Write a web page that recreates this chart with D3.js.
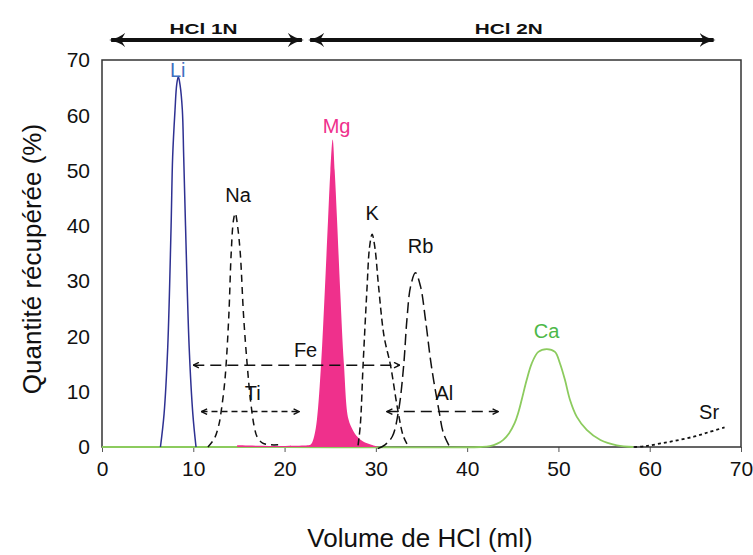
<!DOCTYPE html>
<html><head><meta charset="utf-8">
<script src="https://cdn.jsdelivr.net/npm/d3@7"></script>
<style>
html,body{margin:0;padding:0;background:#fff;}
svg{display:block;}
text{font-family:"Liberation Sans",Arial,sans-serif;}
</style></head>
<body>
<svg id="chart" width="753" height="555"></svg>
<script>
// ---- data (x: volume HCl in ml, y: % recovered) ----
const xTicks = [0,10,20,30,40,50,60,70];
const yTicks = [0,10,20,30,40,50,60,70];
const li = [[6.4,0],[6.8,6],[7.2,18],[7.57,40],[7.74,52.5],[8.0,61],[8.18,65.5],[8.36,67],[8.55,65.5],[8.8,61],[8.95,52.5],[9.15,40],[9.55,18],[9.95,6],[10.3,0]];
const na = [[11.6,0],[12.3,1.5],[12.8,4],[13.1,7],[13.4,11],[13.6,15],[13.9,24],[14.15,35],[14.4,41],[14.6,42.3],[14.85,40],[15.15,35],[15.5,24],[15.9,15],[16.3,8],[16.7,3.5],[17.0,1.8],[17.6,0.7],[18.5,0.4],[19.3,0.4]];
const mg = [[14.8,0.3],[22.5,0.3],[22.9,0.5],[23.25,2],[23.55,5],[24.0,15],[24.4,28],[24.76,41],[25.02,50],[25.27,55.6],[25.49,50],[25.75,41],[26.1,28],[26.5,15],[27.0,5],[27.5,3],[27.95,1.9],[28.6,1],[29.5,0.4],[30.3,0]];
const k  = [[28.05,0.3],[28.3,4],[28.6,14.8],[29.04,29],[29.3,36],[29.59,38.5],[29.9,36],[30.3,29],[30.9,20],[31.6,14.8],[32.4,6.7],[33.0,2],[33.5,0.3]];
const rb = [[30.2,-0.3],[31.0,0.4],[31.8,1.9],[32.5,6.7],[33.05,14.8],[33.4,23],[33.8,29],[34.34,31.5],[34.9,29],[35.44,23],[36.07,14.8],[36.9,6.7],[37.4,2.5],[38.0,0.3]];
const ca = [[0,0],[20,0],[41.5,0],[42.5,0.15],[43.3,0.6],[43.96,1.3],[44.6,2.5],[45.2,4.3],[45.6,6.2],[45.97,8.5],[46.52,12.1],[47.07,15.1],[47.8,17.2],[48.72,17.7],[49.62,17.2],[50.17,15.1],[50.72,12.1],[51.27,8.5],[52.0,5.5],[53.1,3.1],[54.6,1.26],[56.4,0.3],[58.2,0]];
const sr = [[58.3,0],[59.5,0.15],[61.2,0.65],[63,1.2],[64.9,1.9],[66.5,2.7],[68.2,3.55]];
// ranges (double arrows): [label, xStart, xEnd, y]
const ranges = [["Fe",10.0,32.6,14.8],["Ti",10.9,21.6,6.4],["Al",31.2,43.4,6.4]];
// element labels: [name, x, y]
const labels = [["Li",8.3,68.2],["Na",14.9,45.6],["Mg",25.7,58],["K",29.6,42.3],["Rb",34.9,36.3],["Ca",48.7,21],["Sr",66.5,6.3],["Fe",22.3,17.5],["Ti",16.5,9.8],["Al",37.5,9.8]];
// acid zones: [label, xStart, xEnd] in ml
const zones = [["HCl 1N",1.0,21.9],["HCl 2N",22.8,67.0]];

// ---- drawing ----
const svg = d3.select("#chart");
const x = d3.scaleLinear().domain([0,70]).range([102,741]);
const y = d3.scaleLinear().domain([0,70]).range([447,60]);

const defs = svg.append("defs");
defs.append("marker").attr("id","smallHead").attr("viewBox","0 -5 10 10")
  .attr("refX",9).attr("refY",0).attr("markerWidth",7).attr("markerHeight",7)
  .attr("markerUnits","userSpaceOnUse").attr("orient","auto-start-reverse")
  .append("path").attr("d","M1,-4 L9,0 L1,4").attr("fill","none").attr("stroke","#111").attr("stroke-width",2);
defs.append("marker").attr("id","bigHead").attr("viewBox","0 -7 16 14")
  .attr("refX",14).attr("refY",0).attr("markerWidth",16).attr("markerHeight",14)
  .attr("markerUnits","userSpaceOnUse").attr("orient","auto-start-reverse")
  .append("path").attr("d","M0,-7 Q6,-2 16,0 Q6,2 0,7 L4,0 Z").attr("fill","#111");

// axes
const xAxis = svg.append("g").attr("transform","translate(0,447)")
  .call(d3.axisBottom(x).tickValues(xTicks).tickSize(5).tickPadding(9).tickSizeOuter(0));
const yAxis = svg.append("g").attr("transform","translate(102,0)")
  .call(d3.axisLeft(y).tickValues(yTicks).tickSize(0).tickPadding(12));
[xAxis,yAxis].forEach(g=>{
  g.select(".domain").remove();
  g.selectAll("text").attr("font-size",21).attr("fill","#111").attr("font-family","'Liberation Sans',Arial,sans-serif");
  g.selectAll("line").attr("stroke","#555");
});
// box
svg.append("rect").attr("x",x(0)).attr("y",y(70)).attr("width",x(70)-x(0)).attr("height",y(0)-y(70))
  .attr("fill","none").attr("stroke","#333").attr("stroke-width",1.5);

const curve = d3.curveCatmullRom.alpha(0.5);
const line = d3.line().x(d=>x(d[0])).y(d=>y(d[1])).curve(curve);
const area = d3.area().x(d=>x(d[0])).y0(y(0)).y1(d=>y(d[1])).curve(curve);

// Ca (with baseline)
svg.append("path").datum(ca).attr("d",line).attr("fill","none").attr("stroke","#8CCB5E").attr("stroke-width",1.8);
// Mg filled
svg.append("path").datum(mg).attr("d",area).attr("fill","#EF308C").attr("stroke","none");
// Li
svg.append("path").datum(li).attr("d",line).attr("fill","none").attr("stroke","#2E3192").attr("stroke-width",1.5);
// dashed series
svg.append("path").datum(na).attr("d",line).attr("fill","none").attr("stroke","#111").attr("stroke-width",1.5).attr("stroke-dasharray","7,5");
svg.append("path").datum(k).attr("d",line).attr("fill","none").attr("stroke","#111").attr("stroke-width",1.5).attr("stroke-dasharray","7,4");
svg.append("path").datum(rb).attr("d",line).attr("fill","none").attr("stroke","#111").attr("stroke-width",1.5).attr("stroke-dasharray","11,5");
svg.append("path").datum(sr).attr("d",line).attr("fill","none").attr("stroke","#111").attr("stroke-width",1.8).attr("stroke-dasharray","3,3");

// range arrows
svg.selectAll(".rng").data(ranges).enter().append("line")
  .attr("x1",d=>x(d[1])).attr("x2",d=>x(d[2])).attr("y1",d=>y(d[3])).attr("y2",d=>y(d[3]))
  .attr("stroke","#111").attr("stroke-width",1.5)
  .attr("stroke-dasharray",d=>d[0]==="Ti"?"6,4":"11,6")
  .attr("marker-start","url(#smallHead)").attr("marker-end","url(#smallHead)");

// element labels
const colorOf = {Li:"#3F6FC0",Mg:"#EF308C",Ca:"#4CB848"};
svg.selectAll(".lbl").data(labels).enter().append("text")
  .attr("x",d=>x(d[1])).attr("y",d=>y(d[2])).attr("dy","0.35em").attr("text-anchor","middle")
  .attr("font-size",20).attr("fill",d=>colorOf[d[0]]||"#111").text(d=>d[0]);

// zone arrows
const zoneY = 40;
svg.selectAll(".zone").data(zones).enter().append("line")
  .attr("x1",d=>x(d[1])).attr("x2",d=>x(d[2])).attr("y1",zoneY).attr("y2",zoneY)
  .attr("stroke","#111").attr("stroke-width",4)
  .attr("marker-start","url(#bigHead)").attr("marker-end","url(#bigHead)");
svg.selectAll(".zt").data(zones).enter().append("text")
  .attr("x",d=>(x(d[1])+x(d[2]))/2 - 3).attr("y",34).attr("text-anchor","middle")
  .attr("font-size",15).attr("font-weight","bold")
  .attr("textLength",68).attr("lengthAdjust","spacingAndGlyphs")
  .attr("fill","#111").text(d=>d[0]);

// axis titles
svg.append("text").attr("x",420).attr("y",547).attr("text-anchor","middle")
  .attr("font-size",26).attr("fill","#111").text("Volume de HCl (ml)");
svg.append("text").attr("transform","translate(41,259) rotate(-90)").attr("text-anchor","middle")
  .attr("font-size",26).attr("fill","#111").text("Quantité récupérée (%)");
</script>
</body></html>
